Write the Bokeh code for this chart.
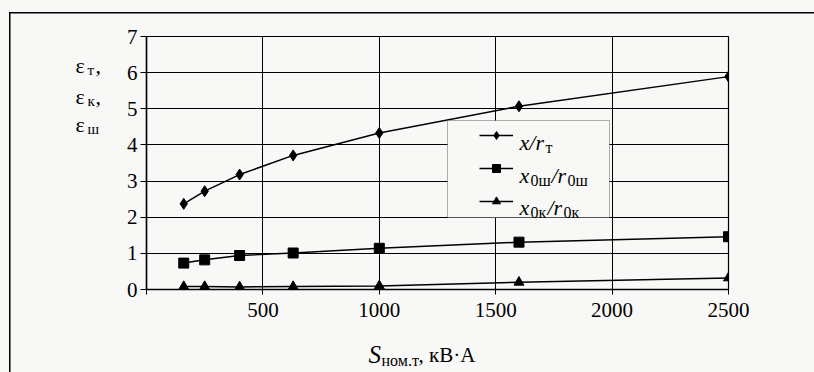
from bokeh.plotting import figure
from bokeh.models import (Range1d, FixedTicker, Legend, LegendItem, Label,
                          BoxAnnotation, GlobalInlineStyleSheet)
from bokeh.embed import file_html
from bokeh.resources import INLINE

# ---- data ----
s_nom = [160, 250, 400, 630, 1000, 1600, 2500]          # S ном.т, кВ·А
eps_t = [2.37, 2.72, 3.18, 3.71, 4.33, 5.07, 5.89]      # x / r_т
eps_sh = [0.73, 0.82, 0.94, 1.01, 1.14, 1.31, 1.46]     # x0ш / r0ш
eps_k = [0.08, 0.08, 0.07, 0.08, 0.10, 0.20, 0.32]      # x0к / r0к
x_ticks = [0, 500, 1000, 1500, 2000, 2500]
y_ticks = [0, 1, 2, 3, 4, 5, 6, 7]

W, H = 814, 372
FL, FR, FT, FB = 146, 728, 36, 289
XMAX, YMAX = 2500, 7
BG = "#f8f8f6"
SERIF = "'Liberation Serif', 'Times New Roman', serif"

p = figure(width=W, height=H, output_backend="svg", toolbar_location=None,
           x_range=Range1d(0, XMAX), y_range=Range1d(0, YMAX),
           min_border_left=FL, min_border_right=W - FR,
           min_border_top=FT, min_border_bottom=H - FB)
p.background_fill_color = BG
p.border_fill_alpha = 0
p.outline_line_color = "black"
p.outline_line_width = 1.2
# page background plus the outer frame of the scanned figure, drawn on the
# page body behind the (transparent) plot border; only its left and top
# edges fall inside the picture
p.stylesheets = [
    GlobalInlineStyleSheet(css=(
        "html, body { margin: 0; overflow: hidden; }"
        "body { background-color: " + BG + ";"
        " background-image: linear-gradient(#000, #000), linear-gradient(#000, #000);"
        " background-size: 1.5px 2000px, 2000px 1.5px;"
        " background-position: 9px 12px, 9px 12px;"
        " background-repeat: no-repeat; }")),
]

p.xgrid.ticker = FixedTicker(ticks=x_ticks[1:-1])
p.ygrid.ticker = FixedTicker(ticks=y_ticks)
for g in (p.xgrid, p.ygrid):
    g.grid_line_color = "black"
    g.grid_line_width = 1

p.xaxis.ticker = FixedTicker(ticks=x_ticks)
p.xaxis.major_label_overrides = {0: ""}
p.yaxis.ticker = FixedTicker(ticks=y_ticks)
for ax in (p.xaxis, p.yaxis):
    ax.axis_line_color = "black"
    ax.axis_line_width = 1.5
    ax.major_tick_line_color = "black"
    ax.major_tick_in = 0
    ax.minor_tick_in = 0
    ax.minor_tick_out = 0
    ax.major_label_text_font = SERIF
    ax.major_label_text_font_size = "21px"
    ax.major_label_text_color = "black"
p.xaxis.major_tick_out = 5
p.xaxis.major_label_standoff = 8
p.yaxis.major_tick_out = 6
p.yaxis.major_label_standoff = 3

# ---- series ----
r1l = p.line(s_nom, eps_t, line_color="black", line_width=1.5)
r1m = p.scatter(s_nom, eps_t, marker="diamond", size=11, color="black")
r2l = p.line(s_nom, eps_sh, line_color="black", line_width=1.5)
r2m = p.scatter(s_nom, eps_sh, marker="square", size=10, color="black")
r3l = p.line(s_nom, eps_k, line_color="black", line_width=1.5)
r3m = p.scatter(s_nom, eps_k, marker="triangle", size=10, color="black")

# ---- legend box ----
p.add_layout(BoxAnnotation(left=447 - FL, right=609 - FL, top=FB - 120, bottom=FB - 217,
                           left_units="screen", right_units="screen",
                           top_units="screen", bottom_units="screen",
                           fill_color=BG, fill_alpha=1, line_color="black", line_width=1))

legend = Legend(items=[LegendItem(label=" ", renderers=[r1l, r1m]),
                       LegendItem(label=" ", renderers=[r2l, r2m]),
                       LegendItem(label=" ", renderers=[r3l, r3m])],
                location=(479 - FL, FB - 211), orientation="vertical",
                padding=0, margin=0, spacing=13, glyph_width=34, glyph_height=20,
                label_height=20, label_width=1, label_standoff=0,
                label_text_font_size="10px",
                background_fill_alpha=0, border_line_alpha=0)
p.add_layout(legend)


def dx(X):
    return (X - FL) * XMAX / (FR - FL)


def dy(Y):
    return (FB - Y) * YMAX / (FB - FT)


def txt(x, y, s, size, italic=False, place="center"):
    lab = Label(x=dx(x), y=dy(y), x_units="data", y_units="data",
                text=s, text_font=SERIF, text_font_size=f"{size}px",
                text_font_style="italic" if italic else "normal",
                text_baseline="alphabetic", text_align="left",
                text_color="black")
    p.add_layout(lab, place)


# legend texts
txt(519, 142, "x/r", 22, True)
txt(545, 147, "т", 16)
txt(519, 175, "x", 22, True)
txt(530, 180, "0ш", 16)
txt(551, 175, "/r", 22, True)
txt(567, 180, "0ш", 16)
txt(519, 207, "x", 22, True)
txt(530, 212, "0к", 16)
txt(547, 207, "/r", 22, True)
txt(563, 212, "0к", 16)

# y-axis title
txt(75, 65, "ε", 22, place="left")
txt(87, 69, "т", 15, place="left")
txt(95, 65, ",", 22, place="left")
txt(75, 96, "ε", 22, place="left")
txt(87, 100, "к", 15, place="left")
txt(95, 96, ",", 22, place="left")
txt(75, 124, "ε", 22, place="left")
txt(87, 128, "ш", 15, place="left")

# x-axis title
txt(368, 354, "S", 25, True, place="below")
txt(381, 360, "ном.т", 16, place="left")
txt(418, 354, ", кВ·А", 21, place="right")

open("out.html", "w").write(file_html(p, INLINE))
